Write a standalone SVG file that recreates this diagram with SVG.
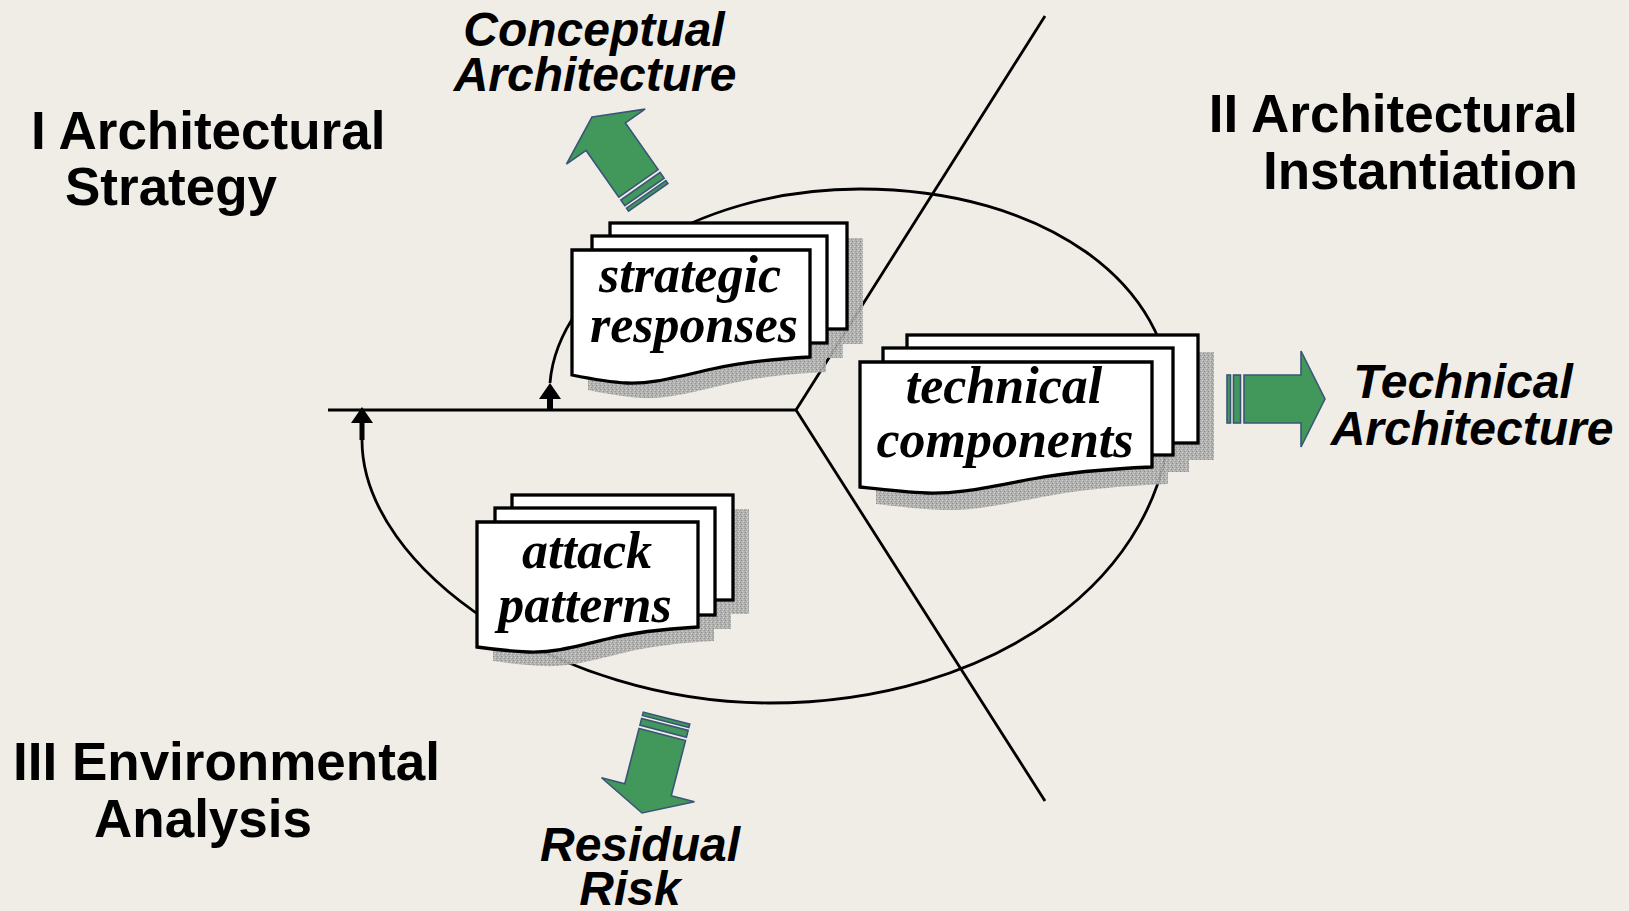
<svg xmlns="http://www.w3.org/2000/svg" xmlns:xlink="http://www.w3.org/1999/xlink" width="1629" height="911" viewBox="0 0 1629 911">
<style>
.sec{font-family:"Liberation Sans",Arial,sans-serif;font-weight:bold;font-size:53px;fill:#000}
.out{font-family:"Liberation Sans",Arial,sans-serif;font-weight:bold;font-style:italic;font-size:48px;fill:#000}
.doc{font-family:"Liberation Serif","Times New Roman",serif;font-weight:bold;font-style:italic;font-size:52px;fill:#000;text-anchor:middle}
.sheet{fill:#fff;stroke:#000;stroke-width:3.3;stroke-linejoin:miter}
.shadow{fill:url(#speck);opacity:0.92}
.ln{fill:none;stroke:#000;stroke-width:2.8}
.garrow{fill:#41985a;stroke:#3a5577;stroke-width:1.6;stroke-linejoin:miter}
</style>
<defs>
<pattern id="speck" width="4" height="4" patternUnits="userSpaceOnUse">
<rect width="4" height="4" fill="#acacac"/>
<rect x="0" y="0" width="1" height="1" fill="#858585"/>
<rect x="2" y="1" width="1" height="1" fill="#d6d6d6"/>
<rect x="1" y="3" width="1" height="1" fill="#cccccc"/>
<rect x="3" y="2" width="1" height="1" fill="#929292"/>
</pattern>
<marker id="ah" markerUnits="userSpaceOnUse" markerWidth="16" markerHeight="22" viewBox="0 0 16 22" refX="0" refY="11" orient="auto">
<path d="M0,0 L16,11 L0,22 Z" fill="#000"/>
</marker>
<g id="blockarrow">
<path class="garrow" d="M0,0 L48,24 L24,24 L24,81 L-24,81 L-24,24 L-48,24 Z"/>
<rect class="garrow" x="-24" y="84.5" width="48" height="7"/>
<rect class="garrow" x="-24" y="94.5" width="48" height="3.5"/>
</g>
</defs>
<rect width="1629" height="911" fill="#f0ede7"/>

<g id="connectors">
<path class="ln" stroke-width="3.4" d="M550,383 C558,283 690,189 860,189 C1045,189 1174,285 1171,405 C1170,580 990,703 769,703 C560,703 362,570 362,440"/>
<path d="M550,410 V399" stroke="#000" stroke-width="6" fill="none" marker-end="url(#ah)"/>
<path d="M362,440 V423" stroke="#000" stroke-width="5" fill="none" marker-end="url(#ah)"/>
<path class="ln" stroke-width="3.2" d="M328,410 H796"/>
<path class="ln" d="M1045,16 L796,410 L1045,801"/>
</g>

<g id="out-conceptual">
<use xlink:href="#blockarrow" transform="translate(592,117) rotate(-35)"/>
<text class="out" text-anchor="middle"><tspan x="594" y="46">Conceptual</tspan><tspan x="595" y="91">Architecture</tspan></text>
</g>
<g id="out-technical">
<use xlink:href="#blockarrow" transform="translate(1325,399) rotate(90)"/>
<text class="out" text-anchor="middle"><tspan x="1463" y="398">Technical</tspan><tspan x="1472" y="445">Architecture</tspan></text>
</g>
<g id="out-residual">
<use xlink:href="#blockarrow" transform="translate(642,813) rotate(194.5)"/>
<text class="out" text-anchor="middle"><tspan x="640" y="861">Residual</tspan><tspan x="630" y="905">Risk</tspan></text>
</g>

<g id="node-strategic" transform="translate(572,250)">
<g class="shadow" transform="translate(16,15)">
<rect x="38" y="-27" width="237" height="106"/>
<rect x="20" y="-14" width="235" height="107"/>
<path d="M0,0 H238 V107 C200,109 170,112 140,119 C100,128 80,134 55,133 C35,132 15,128 0,125 Z"/>
</g>
<rect class="sheet" x="38" y="-27" width="237" height="106"/>
<rect class="sheet" x="20" y="-14" width="235" height="107"/>
<path class="sheet" d="M0,0 H238 V107 C200,109 170,112 140,119 C100,128 80,134 55,133 C35,132 15,128 0,125 Z"/>
<text class="doc"><tspan x="118" y="42">strategic</tspan><tspan x="122" y="92">responses</tspan></text>
</g>

<g id="node-technical" transform="translate(860,362)">
<g class="shadow" transform="translate(16,17)">
<rect x="47" y="-27" width="291" height="108"/>
<rect x="23" y="-14" width="290" height="107"/>
<path d="M0,0 H292 V105 C245,107 209,110 172,117 C123,126 98,132 67,131 C43,130 18,127 0,125 Z"/>
</g>
<rect class="sheet" x="47" y="-27" width="291" height="108"/>
<rect class="sheet" x="23" y="-14" width="290" height="107"/>
<path class="sheet" d="M0,0 H292 V105 C245,107 209,110 172,117 C123,126 98,132 67,131 C43,130 18,127 0,125 Z"/>
<text class="doc"><tspan x="144" y="41">technical</tspan><tspan x="145" y="95">components</tspan></text>
</g>

<g id="node-attack" transform="translate(477,522)">
<g class="shadow" transform="translate(16,14)">
<rect x="35" y="-27" width="221" height="105"/>
<rect x="18" y="-14" width="220" height="107"/>
<path d="M0,0 H221 V105 C186,107 158,110 130,117 C93,126 74,131 51,130 C32,129 14,127 0,125 Z"/>
</g>
<rect class="sheet" x="35" y="-27" width="221" height="105"/>
<rect class="sheet" x="18" y="-14" width="220" height="107"/>
<path class="sheet" d="M0,0 H221 V105 C186,107 158,110 130,117 C93,126 74,131 51,130 C32,129 14,127 0,125 Z"/>
<text class="doc"><tspan x="110" y="46">attack</tspan><tspan x="108" y="100">patterns</tspan></text>
</g>

<g id="sec-strategy">
<text class="sec"><tspan x="31" y="149">I Architectural</tspan><tspan x="65" y="205">Strategy</tspan></text>
</g>
<g id="sec-instantiation">
<text class="sec" text-anchor="end"><tspan x="1578" y="132">II Architectural</tspan><tspan x="1578" y="189">Instantiation</tspan></text>
</g>
<g id="sec-environmental">
<text class="sec"><tspan x="13" y="780">III Environmental</tspan><tspan x="94" y="837">Analysis</tspan></text>
</g>
</svg>
